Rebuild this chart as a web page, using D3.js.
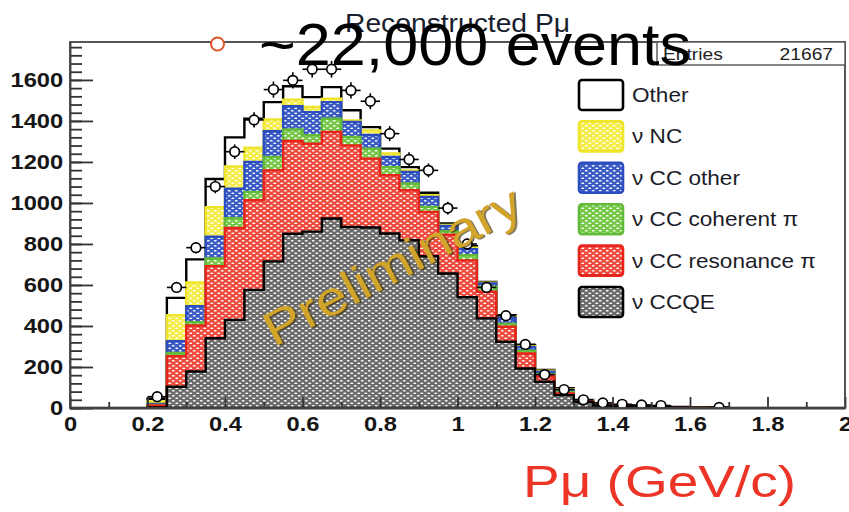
<!DOCTYPE html>
<html>
<head>
<meta charset="utf-8">
<script src="https://cdn.jsdelivr.net/npm/d3@7"></script>
<style>
  html, body { margin: 0; padding: 0; background: #fff; }
  svg { display: block; }
  text { font-family: "Liberation Sans", Arial, Helvetica, sans-serif; }
</style>
</head>
<body>
<svg id="chart"></svg>
<script>
// lower edge of each 0.05 GeV/c bin
const binLo = [0.20, 0.25, 0.30, 0.35, 0.40, 0.45, 0.50, 0.55, 0.60, 0.65,
               0.70, 0.75, 0.80, 0.85, 0.90, 0.95, 1.00, 1.05, 1.10, 1.15,
               1.20, 1.25, 1.30, 1.35, 1.40, 1.45, 1.50, 1.55, 1.60, 1.65];
const binW = 0.05;

// MC components (events per bin), stacked bottom -> top
const ccqe    = [3, 104, 178, 340, 430, 576, 715, 850, 860, 924, 883, 880, 851, 818, 740, 656, 540, 437, 323, 193, 128, 63, 28, 12, 8, 5, 4, 3, 2, 1];
const ccRes   = [9, 149, 224, 352, 448, 437, 444, 452, 429, 422, 398, 336, 284, 244, 216, 189, 180, 130, 73, 73, 28, 8, 4, 2, 1, 1, 1, 0, 0, 1];
const ccCoh   = [3, 15, 16, 37, 48, 41, 65, 56, 41, 65, 41, 49, 40, 33, 25, 17, 25, 24, 14, 14, 9, 7, 2, 1, 1, 0, 0, 1, 1, 0];
const ccOther = [5, 58, 79, 106, 144, 146, 126, 114, 113, 81, 73, 67, 49, 56, 48, 26, 30, 16, 30, 16, 12, 10, 2, 1, 1, 1, 1, 0, 0, 0];
const nc      = [12, 127, 115, 144, 108, 70, 57, 32, 25, 16, 8, 22, 17, 8, 9, 5, 7, 4, 7, 6, 5, 4, 2, 1, 0, 0, 0, 0, 0, 0];
const other   = [13, 84, 113, 138, 142, 141, 85, 65, 48, 57, 49, 16, 24, 16, 12, 7, 8, 4, 6, 5, 3, 4, 1, 1, 1, 1, 0, 1, 0, 0];

// measured data points
const dataCounts = [55, 588, 782, 1080, 1250, 1405, 1553, 1598, 1652, 1652, 1549, 1496, 1338, 1212, 1159, 975, 800, 588, 450, 310, 163, 90, 40, 25, 18, 15, 12, 0, 0, 3];

const xTicks = [0, 0.2, 0.4, 0.6, 0.8, 1, 1.2, 1.4, 1.6, 1.8, 2];
const yTicks = [0, 200, 400, 600, 800, 1000, 1200, 1400, 1600];

const legendKeys   = ["other", "nc", "ccOther", "ccCoh", "ccRes", "ccqe"];
const legendLabels = ["Other", "\u03bd NC", "\u03bd CC other", "\u03bd CC coherent \u03c0", "\u03bd CC resonance \u03c0", "\u03bd CCQE"];

const titleText = "Reconstructed P\u03bc";
const entries = "21667";

const margin = { top: 42, right: 4, bottom: 104, left: 70 };
const W = 849, H = 512;
const width = W - margin.left - margin.right;
const height = H - margin.top - margin.bottom;
const sx = 1.13; // the slide stretches text a bit horizontally

const styles = {
    ccqe:    { bg: "#6b6b6b", line: "#000000" },
    ccRes:   { bg: "#ee4a3e", line: "#e8231b" },
    ccCoh:   { bg: "#74c846", line: "#62b93a" },
    ccOther: { bg: "#3a5ac4", line: "#2b4dbf" },
    nc:      { bg: "#f4ec48", line: "#eee42a" },
    other:   { bg: "#ffffff", line: "#000000" }
};
const keys = ["ccqe", "ccRes", "ccCoh", "ccOther", "nc", "other"];
const comp = { ccqe, ccRes, ccCoh, ccOther, nc, other };

const root = d3.select("#chart").attr("width", W).attr("height", H);
root.append("rect").attr("width", W).attr("height", H).attr("fill", "#fff");

const defs = root.append("defs");
keys.filter(k => k !== "other").forEach(k => {
    const p = defs.append("pattern")
        .attr("id", "hatch-" + k)
        .attr("width", 7).attr("height", 5)
        .attr("patternUnits", "userSpaceOnUse");
    p.append("rect").attr("width", 7).attr("height", 5).attr("fill", styles[k].bg);
    p.append("ellipse").attr("cx", 1.75).attr("cy", 1.25).attr("rx", 1.5).attr("ry", 0.85).attr("fill", "#fff");
    p.append("ellipse").attr("cx", 5.25).attr("cy", 3.75).attr("rx", 1.5).attr("ry", 0.85).attr("fill", "#fff");
});
const fillOf = k => k === "other" ? "#ffffff" : `url(#hatch-${k})`;

defs.append("clipPath").attr("id", "frame-clip")
    .append("rect").attr("width", width).attr("height", height);

const svg = root.append("g")
    .attr("transform", `translate(${margin.left},${margin.top})`);

const x = d3.scaleLinear().domain([0, 2]).range([0, width]);
const y = d3.scaleLinear().domain([0, 1785]).range([height, 0]);

// stacked histogram
const rows = binLo.map((lo, i) => {
    const r = { lo };
    keys.forEach(k => r[k] = comp[k][i]);
    return r;
});
const series = d3.stack().keys(keys)(rows);

const area = d3.area()
    .x(d => x(d.x))
    .y0(y(0))
    .y1(d => y(d.v))
    .curve(d3.curveStepAfter);

const line = d3.line()
    .x(d => x(d.x))
    .y(d => y(d.v))
    .curve(d3.curveStepAfter);

const hist = svg.append("g").attr("clip-path", "url(#frame-clip)");
const endX = binLo[binLo.length - 1] + binW;

// draw like ROOT's THStack: biggest sum first, each smaller sum on top
series.slice().reverse().forEach(s => {
    const k = s.key;
    const pts = s.map((d, i) => ({ x: binLo[i], v: d[1] }));
    pts.push({ x: endX, v: pts[pts.length - 1].v });
    hist.append("path")
        .attr("class", "layer " + k)
        .attr("d", area(pts))
        .attr("fill", fillOf(k));
    const outline = [{ x: binLo[0], v: 0 }, ...pts, { x: endX, v: 0 }];
    hist.append("path")
        .attr("d", line(outline))
        .attr("fill", "none")
        .attr("stroke", styles[k].line)
        .attr("stroke-width", 2.4);
});

// empty part of the histogram sits on the zero line
hist.append("line")
    .attr("x1", x(0)).attr("x2", x(2))
    .attr("y1", y(0)).attr("y2", y(0))
    .attr("stroke", "#000").attr("stroke-width", 2.4);

// data points with error bars
const pts = binLo.map((lo, i) => ({ lo, v: dataCounts[i] })).filter(d => d.v > 0);
const dp = hist.append("g").attr("class", "data");
dp.selectAll("line.h").data(pts).join("line")
    .attr("class", "h")
    .attr("x1", d => x(d.lo)).attr("x2", d => x(d.lo + binW))
    .attr("y1", d => y(d.v)).attr("y2", d => y(d.v))
    .attr("stroke", "#000").attr("stroke-width", 1.6);
dp.selectAll("line.v").data(pts).join("line")
    .attr("class", "v")
    .attr("x1", d => x(d.lo + binW / 2)).attr("x2", d => x(d.lo + binW / 2))
    .attr("y1", d => y(d.v + Math.sqrt(d.v))).attr("y2", d => y(Math.max(0, d.v - Math.sqrt(d.v))))
    .attr("stroke", "#000").attr("stroke-width", 1.6);
dp.selectAll("circle").data(pts).join("circle")
    .attr("cx", d => x(d.lo + binW / 2))
    .attr("cy", d => y(d.v))
    .attr("r", 4.8)
    .attr("fill", "#fff")
    .attr("stroke", "#000")
    .attr("stroke-width", 1.7);

// axes, ROOT style: ticks pointing inwards
const tickColor = "#333";
svg.append("g")
    .attr("class", "axis y-minor")
    .call(d3.axisLeft(y).tickValues(d3.range(0, 1785, 40)).tickSize(-12).tickFormat(""))
    .call(g => g.select(".domain").remove());

svg.append("g")
    .attr("class", "axis y-axis")
    .call(d3.axisLeft(y).tickValues(yTicks).tickSize(-23).tickSizeOuter(0).tickPadding(6)
        .tickFormat(d3.format("d")));

svg.append("g")
    .attr("class", "axis x-minor")
    .attr("transform", `translate(0,${height})`)
    .call(d3.axisBottom(x).tickValues([0.1, 0.3, 0.5, 0.7, 0.9, 1.1, 1.3, 1.5, 1.7, 1.9]).tickSize(-6).tickFormat(""))
    .call(g => g.select(".domain").remove());

svg.append("g")
    .attr("class", "axis x-axis")
    .attr("transform", `translate(0,${height})`)
    .call(d3.axisBottom(x).tickValues(xTicks).tickSize(-11).tickSizeOuter(0).tickPadding(8)
        .tickFormat(d3.format("~g")));

svg.selectAll(".axis line, .axis path")
    .attr("stroke", tickColor).attr("stroke-width", 1.8);
svg.selectAll(".axis text")
    .attr("font-size", 21)
    .attr("font-weight", "bold")
    .attr("fill", "#161616")
    .attr("font-family", "'Liberation Sans', Arial, sans-serif")
    .attr("transform", `scale(${sx},1)`);

// frame
svg.append("rect")
    .attr("width", width).attr("height", height)
    .attr("fill", "none").attr("stroke", "#444").attr("stroke-width", 1.8);

// stat box
const stat = svg.append("g").attr("class", "stats");
stat.append("rect")
    .attr("x", 587).attr("y", 0).attr("width", width - 587).attr("height", 23)
    .attr("fill", "#fff").attr("stroke", "#555").attr("stroke-width", 1.4);
stat.append("text")
    .attr("transform", `translate(593,18) scale(${sx},1)`)
    .attr("font-size", 17).attr("fill", "#222").text("Entries");
stat.append("text")
    .attr("transform", `translate(763,18) scale(${sx},1)`)
    .attr("text-anchor", "end")
    .attr("font-size", 17).attr("fill", "#222").text(entries);

// legend
const legend = svg.append("g").attr("class", "legend");
legendKeys.forEach((k, i) => {
    const cy = 53 + i * 41.4;
    legend.append("rect")
        .attr("x", 509).attr("y", cy - 15)
        .attr("width", 44).attr("height", 30)
        .attr("rx", 3)
        .attr("fill", fillOf(k))
        .attr("stroke", styles[k].line)
        .attr("stroke-width", 2.6);
    legend.append("text")
        .attr("transform", `translate(562,${cy + 7}) scale(${sx},1)`)
        .attr("font-size", 20)
        .attr("fill", "#1c1c28")
        .text(legendLabels[i]);
});

// histogram title
root.append("text")
    .attr("transform", `translate(${margin.left + width / 2},32) scale(${sx},1)`)
    .attr("text-anchor", "middle")
    .attr("font-size", 25)
    .attr("fill", "#18202e")
    .text(titleText);

// watermark
const wm = root.append("g").attr("transform", "translate(392,266) rotate(-28)");
wm.append("text")
    .attr("x", 1.6).attr("y", 1.6)
    .attr("text-anchor", "middle").attr("dominant-baseline", "central")
    .attr("font-size", 48)
    .attr("textLength", 285).attr("lengthAdjust", "spacingAndGlyphs")
    .attr("fill", "#3f3308").attr("opacity", 0.65)
    .text("Preliminary");
wm.append("text")
    .attr("text-anchor", "middle").attr("dominant-baseline", "central")
    .attr("font-size", 48)
    .attr("textLength", 285).attr("lengthAdjust", "spacingAndGlyphs")
    .attr("fill", "#d3a42a")
    .text("Preliminary");

// slide overlay: bullet and event count
root.append("circle")
    .attr("cx", 217.5).attr("cy", 44).attr("r", 6.5)
    .attr("fill", "#fff").attr("stroke", "#e0552a").attr("stroke-width", 2);
root.append("text")
    .attr("x", 259).attr("y", 65)
    .attr("font-size", 59)
    .attr("textLength", 432).attr("lengthAdjust", "spacingAndGlyphs")
    .attr("fill", "#000")
    .text("~22,000 events");

// axis title on the slide
root.append("text")
    .attr("x", 523).attr("y", 497)
    .attr("font-size", 44)
    .attr("textLength", 273).attr("lengthAdjust", "spacingAndGlyphs")
    .attr("fill", "#ec3526")
    .text("P\u03bc (GeV/c)");
</script>
</body>
</html>
